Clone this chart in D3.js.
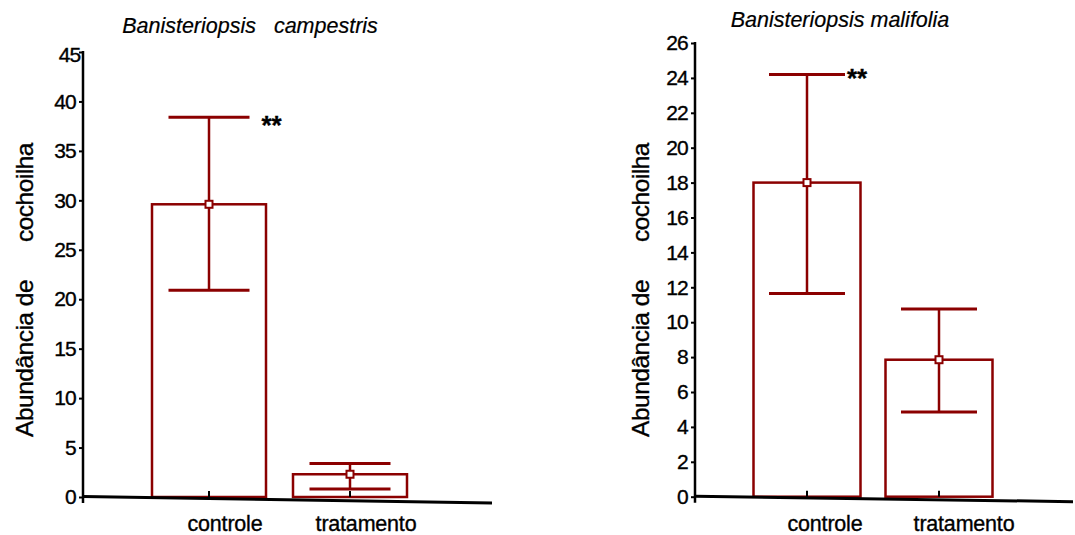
<!DOCTYPE html>
<html>
<head>
<meta charset="utf-8">
<script src="https://cdn.jsdelivr.net/npm/d3@7"></script>
<style>
  body { margin: 0; background: #fff; }
  svg text { font-family: "Liberation Sans", Arial, sans-serif; fill: #000; stroke: #000; stroke-width: 0.35px; }
</style>
</head>
<body>
<script>
// categories and values
var categories = ["controle", "tratamento"];

var campestrisMean = [29.6, 2.3];
var campestrisUpper = [38.4, 3.4];
var campestrisLower = [20.9, 0.8];
var campestrisTicks = [0, 5, 10, 15, 20, 25, 30, 35, 40, 45];

var malifoliaMean = [18.0, 7.85];
var malifoliaUpper = [24.2, 10.75];
var malifoliaLower = [11.65, 4.85];
var malifoliaTicks = [0, 2, 4, 6, 8, 10, 12, 14, 16, 18, 20, 22, 24, 26];

var yLabel = "Abund\u00e2ncia de      cochoilha";
var red = "#8b0000";

var w = 1075, h = 535;

var svg = d3.select("body").append("svg")
    .attr("width", w)
    .attr("height", h);

// layout for each panel
var panels = [
    {
        title: "Banisteriopsis   campestris", titleX: 250, titleY: 33,
        mean: campestrisMean, upper: campestrisUpper, lower: campestrisLower,
        ticks: campestrisTicks,
        axisX: 83, yTop: 52, yBottom: 497, xEnd: 492, slant: 6,
        centers: [209, 350], barW: 114, capW: 81,
        labelShift: [16, 16], labelX: 24,
        starDx: 12, starDy: 17, topTickShift: 4.5
    },
    {
        title: "Banisteriopsis malifolia", titleX: 840, titleY: 27,
        mean: malifoliaMean, upper: malifoliaUpper, lower: malifoliaLower,
        ticks: malifoliaTicks,
        axisX: 695, yTop: 43, yBottom: 496.7, xEnd: 1073, slant: 5,
        centers: [807, 939], barW: 107, capW: 76,
        labelShift: [18, 25], labelX: 640,
        starDx: 2, starDy: 13, topTickShift: 0
    }
];

panels.forEach(function(p) {
    var g = svg.append("g");
    var ticks = p.ticks;

    var y = d3.scaleLinear()
        .domain([0, d3.max(ticks)])
        .range([p.yBottom, p.yTop]);

    var x = d3.scalePoint()
        .domain(categories)
        .range(p.centers);

    var rows = categories.map(function(c, i) {
        return { cat: c, mean: p.mean[i], upper: p.upper[i], lower: p.lower[i], shift: p.labelShift[i] };
    });

    // title
    g.append("text")
        .attr("x", p.titleX)
        .attr("y", p.titleY)
        .attr("text-anchor", "middle")
        .style("font-size", "21.5px")
        .style("font-style", "italic")
        .style("stroke-width", "0.2px")
        .style("white-space", "pre")
        .text(p.title);

    // y axis
    var yAxis = d3.axisLeft(y)
        .tickValues(ticks)
        .tickSize(4)
        .tickPadding(3)
        .tickFormat(d3.format("d"));

    var ya = g.append("g")
        .attr("transform", "translate(" + p.axisX + ",0)")
        .call(yAxis);
    ya.select(".domain").remove();
    ya.selectAll(".tick line").attr("stroke", "#000").attr("stroke-width", 2);
    ya.selectAll(".tick text")
        .style("font-size", "21px")
        .style("letter-spacing", "-0.8px");
    // the top label sits against the axis in the scan
    ya.selectAll(".tick text")
        .filter(function(d) { return d === d3.max(ticks); })
        .attr("x", -7 + p.topTickShift)
        .attr("y", p.topTickShift ? 3 : 0);

    g.append("line")
        .attr("x1", p.axisX).attr("x2", p.axisX)
        .attr("y1", y(d3.max(ticks)) - 1)
        .attr("y2", y(0) + 6)
        .attr("stroke", "#000")
        .attr("stroke-width", 2.5);

    // y label
    g.append("text")
        .attr("transform", "translate(" + p.labelX + "," + 290 + ") rotate(-90)")
        .attr("text-anchor", "middle")
        .attr("dy", "0.36em")
        .style("font-size", "24.5px")
        .style("letter-spacing", "-0.5px")
        .style("white-space", "pre")
        .text(yLabel);

    // bars
    g.selectAll("rect.bar")
        .data(rows)
        .enter()
        .append("rect")
        .attr("class", "bar")
        .attr("x", function(d) { return x(d.cat) - p.barW / 2; })
        .attr("y", function(d) { return y(d.mean); })
        .attr("width", p.barW)
        .attr("height", function(d) { return y(0) - y(d.mean); })
        .attr("fill", "#fff")
        .attr("stroke", red)
        .attr("stroke-width", 2.5);

    // x axis, slightly slanted as in the scan
    g.append("line")
        .attr("x1", p.axisX).attr("y1", y(0) - 0.5)
        .attr("x2", p.xEnd).attr("y2", y(0) + p.slant)
        .attr("stroke", "#000")
        .attr("stroke-width", 3);

    g.selectAll("line.xtick")
        .data(rows)
        .enter()
        .append("line")
        .attr("class", "xtick")
        .attr("x1", function(d) { return x(d.cat); })
        .attr("x2", function(d) { return x(d.cat); })
        .attr("y1", y(0) - 6)
        .attr("y2", y(0))
        .attr("stroke", "#000")
        .attr("stroke-width", 2);

    // error bars
    var eb = g.selectAll("g.err")
        .data(rows)
        .enter()
        .append("g")
        .attr("class", "err");

    eb.append("line")
        .attr("x1", function(d) { return x(d.cat); })
        .attr("x2", function(d) { return x(d.cat); })
        .attr("y1", function(d) { return y(d.upper); })
        .attr("y2", function(d) { return y(d.lower); })
        .attr("stroke", red)
        .attr("stroke-width", 2.5);

    ["upper", "lower"].forEach(function(k) {
        eb.append("line")
            .attr("x1", function(d) { return x(d.cat) - p.capW / 2; })
            .attr("x2", function(d) { return x(d.cat) + p.capW / 2; })
            .attr("y1", function(d) { return y(d[k]); })
            .attr("y2", function(d) { return y(d[k]); })
            .attr("stroke", red)
            .attr("stroke-width", 3);
    });

    eb.append("rect")
        .attr("x", function(d) { return x(d.cat) - 3.5; })
        .attr("y", function(d) { return y(d.mean) - 3.5; })
        .attr("width", 7)
        .attr("height", 7)
        .attr("fill", "#fff")
        .attr("stroke", red)
        .attr("stroke-width", 2);

    // significance mark on controle
    g.append("text")
        .attr("x", x(categories[0]) + p.capW / 2 + p.starDx)
        .attr("y", y(p.upper[0]) + p.starDy)
        .style("font-size", "26px")
        .style("font-weight", "bold")
        .text("**");

    // category labels
    g.selectAll("text.cat")
        .data(rows)
        .enter()
        .append("text")
        .attr("class", "cat")
        .attr("x", function(d) { return x(d.cat) + d.shift; })
        .attr("y", 531)
        .attr("text-anchor", "middle")
        .style("font-size", "21.5px")
        .style("letter-spacing", "-0.2px")
        .text(function(d) { return d.cat; });
});
</script>
</body>
</html>
